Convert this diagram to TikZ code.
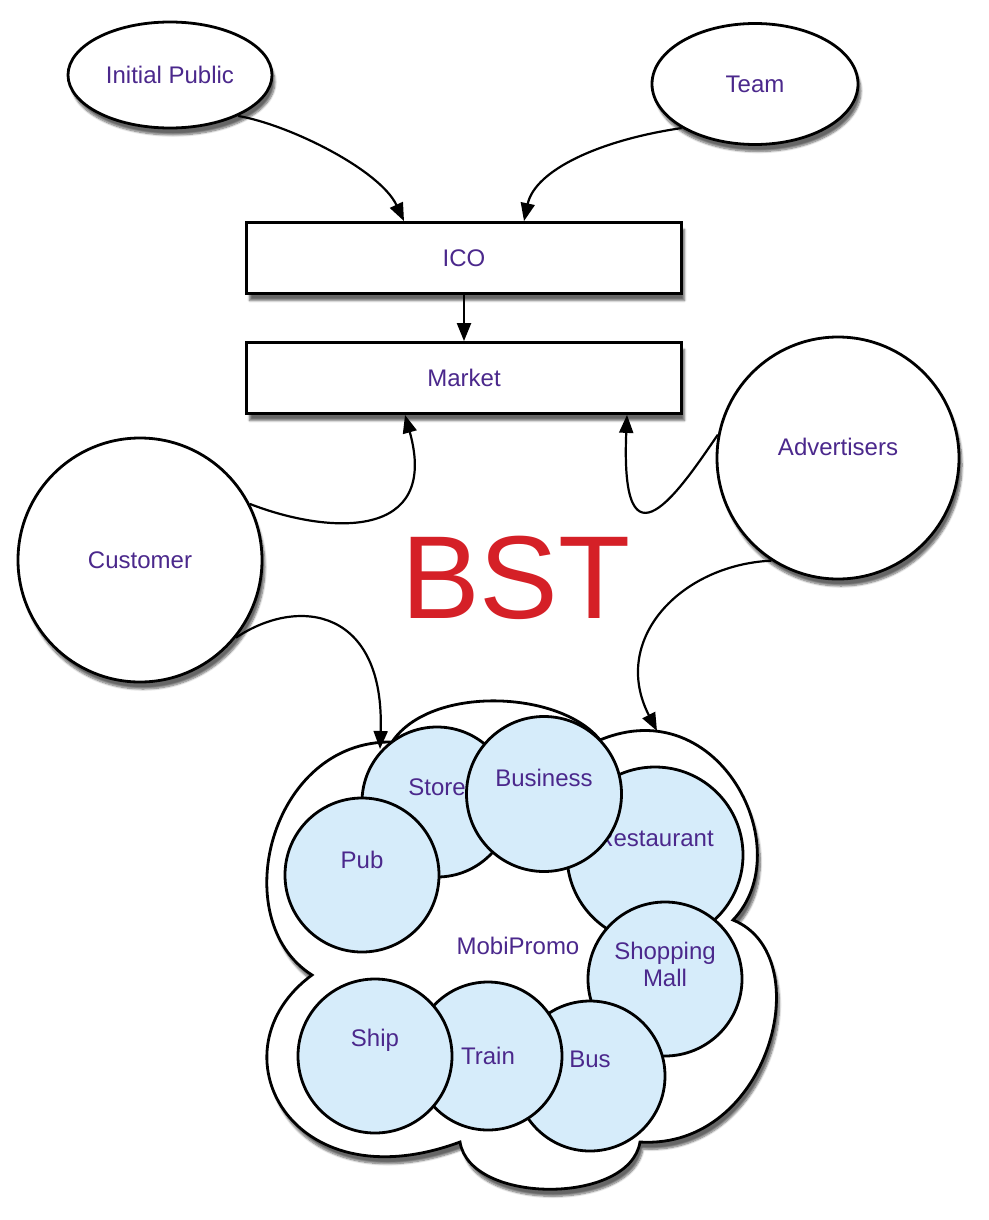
\documentclass[tikz,border=0pt]{standalone}
\usepackage{fontspec}
\setmainfont{Liberation Sans}
\usetikzlibrary{arrows.meta,shapes.geometric,shadows.blur}
\definecolor{labelpurple}{RGB}{75,40,140}
\definecolor{bstred}{RGB}{213,32,39}
\definecolor{spotblue}{RGB}{214,236,250}

\begin{document}
\begin{tikzpicture}
    [x=1pt, y=-1pt,
    >={Triangle[length=18pt,width=14pt,fill=black]},
    line width=2.8pt,
    font=\fontsize{24}{27}\selectfont,
    text=labelpurple,
    soft shadow/.style={blur shadow={shadow xshift=3pt, shadow yshift=-7pt,
      shadow opacity=60, shadow blur steps=8}},
    actor/.style={ellipse, draw=black, fill=white, soft shadow, inner sep=0pt},
    stage/.style={rectangle, draw=black, fill=white, soft shadow,
      minimum width=435pt, minimum height=71pt},
    spot/.style={circle, draw=black, fill=spotblue, inner sep=0pt},
    link/.style={->, line width=2.2pt}
    ]
    \useasboundingbox (0,0) rectangle (988,1220);

    % funding side
    \node (public) [actor, minimum width=204pt, minimum height=106pt] at (170,75) {Initial Public};
    \node (team) [actor, minimum width=206pt, minimum height=121pt] at (755,84) {Team};
    \node (ico) [stage] at (464,258) {ICO};
    \node (market) [stage] at (464,378) {Market};
    \node (customer) [actor, circle, minimum size=244pt] at (140,560) {Customer};
    \node (advertisers) [actor, circle, minimum size=242pt,
      label={[yshift=11pt]center:Advertisers}] at (838,458) {};
    \node (bst) [text=bstred, font=\fontsize{118}{118}\selectfont, inner sep=0pt] at (516,578) {BST};

    % MobiPromo cloud
    \filldraw[fill=white, soft shadow] (392,742)
      .. controls (270,740) and (225,920) .. (312,975)
      .. controls (210,1050) and (290,1205) .. (460,1142)
      .. controls (470,1205) and (630,1205) .. (640,1142)
      .. controls (770,1150) and (820,955) .. (733,920)
      .. controls (800,850) and (720,690) .. (600,740)
      .. controls (560,690) and (430,685) .. (392,742) -- cycle;
    \coordinate (storetip) at (380,749);
    \coordinate (resttip) at (657,731);
    \node (mobi) at (518,946) {MobiPromo};

    \node (restaurant) [spot, minimum size=176pt, label={[yshift=17pt]center:Restaurant}] at (655,855) {};
    \node (store) [spot, minimum size=150pt, label={[yshift=15pt]center:Store}] at (437,802) {};
    \node (pub) [spot, minimum size=154pt, label={[yshift=15pt]center:Pub}] at (362,875) {};
    \node (business) [spot, minimum size=155pt, label={[yshift=16pt]center:Business}] at (544,794) {};
    \node (mall) [spot, minimum size=154pt,
      label={[yshift=15pt, align=center]center:Shopping\\Mall}] at (665,979) {};
    \node (bus) [spot, minimum size=150pt, label={[yshift=17pt]center:Bus}] at (590,1076) {};
    \node (train) [spot, minimum size=148pt] at (488,1056) {Train};
    \node (ship) [spot, minimum size=154pt, label={[yshift=16pt]center:Ship}] at (375,1056) {};

    % connectors
    \draw[link] (public.-31) .. controls (290,125) and (380,170) .. ([xshift=-60pt]ico.north);
    \draw[link] (team.211) .. controls (600,140) and (535,170) .. ([xshift=60pt]ico.north);
    \draw[link] (ico) -- (market);
    \draw[link] (customer.27) .. controls (330,535) and (440,540) .. ([xshift=-59pt]market.south);
    \draw[link] (advertisers.169) .. controls (680,490) and (620,580) .. ([xshift=163pt]market.south);
    \draw[link] (customer.-39) .. controls (300,595) and (385,610) .. (storetip);
    \draw[link] (advertisers.237) .. controls (680,565) and (610,640) .. (resttip);
\end{tikzpicture}
\end{document}
